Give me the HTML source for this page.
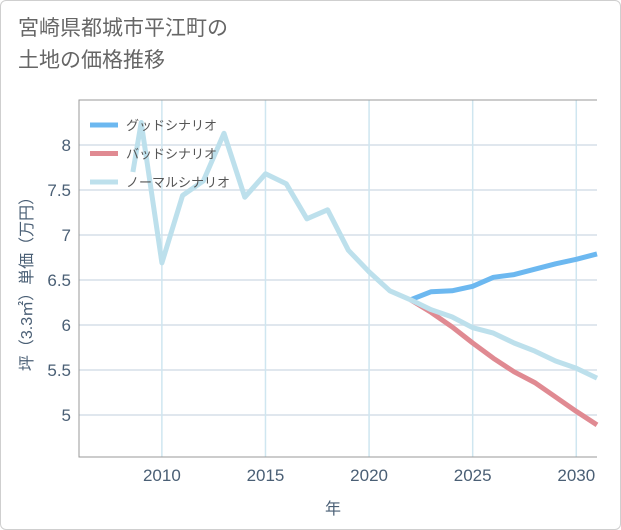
<!DOCTYPE html>
<html><head><meta charset="utf-8">
<style>
html,body{margin:0;padding:0;background:#fff;}
body{width:621px;height:530px;overflow:hidden;font-family:"Liberation Sans","Noto Sans CJK JP",sans-serif;}
#frame{position:absolute;left:0;top:0;width:619px;height:528px;border:1px solid #cfcfcf;border-radius:6px;}
#title{position:absolute;left:18px;top:13px;font-size:21px;line-height:32px;color:#666;}
</style></head><body>
<div id="frame"></div>
<div id="title">宮崎県都城市平江町の<br>土地の価格推移</div>
<svg id="chart" width="621" height="530" style="position:absolute;left:0;top:0"></svg>
<script>
const yearsNormal=[2008.6,2009,2010,2011,2012,2013,2014,2015,2016,2017,2018,2019,2020,2021,2022,2023,2024,2025,2026,2027,2028,2029,2030,2031];
const valuesNormal=[7.7,8.25,6.69,7.44,7.6,8.13,7.42,7.68,7.57,7.18,7.28,6.83,6.59,6.38,6.28,6.17,6.09,5.97,5.91,5.8,5.71,5.6,5.52,5.41];
const yearsScenario=[2022,2023,2024,2025,2026,2027,2028,2029,2030,2031];
const valuesGood=[6.28,6.37,6.38,6.43,6.53,6.56,6.62,6.68,6.73,6.79];
const valuesBad=[6.28,6.14,5.98,5.8,5.63,5.48,5.36,5.2,5.04,4.89];
const xTicks=[2010,2015,2020,2025,2030];
const yTicks=[5,5.5,6,6.5,7,7.5,8];
const legendLabels=["グッドシナリオ","バッドシナリオ","ノーマルシナリオ"];
const legendColors=["#6cb8f0","#e08a92","#bde0ec"];

const L=79,R=597,T=100,B=457;
const x=v=>L+(v-2006)*(R-L)/25;
const y=v=>415-(v-5)*90;
const svg=document.getElementById('chart');
const NS='http://www.w3.org/2000/svg';
function mk(tag,attrs,parent){const e=document.createElementNS(NS,tag);for(const k in attrs)e.setAttribute(k,attrs[k]);(parent||svg).appendChild(e);return e;}

yTicks.forEach(t=>{
  const g=mk('line',{x1:L,x2:R,y1:y(t),y2:y(t),stroke:'#d5dfe8','stroke-width':1.5});
  
  
  const tx=mk('text',{x:L-8,y:y(t)+6,'text-anchor':'end','font-size':17,fill:'#4a5f75'});
  tx.textContent=String(t);
  
  
});
xTicks.forEach(t=>{
  const g=mk('line',{x1:x(t),x2:x(t),y1:T,y2:B,stroke:'#cfe6f0','stroke-width':1.5});
  
  
  const tx=mk('text',{x:x(t),y:B+24,'text-anchor':'middle','font-size':17,fill:'#4a5f75'});
  tx.textContent=String(t);
  
  
});
const ax=mk('path',{d:`M${R} ${T} L${L} ${T} L${L} ${B} L${R} ${B}`,fill:'none',stroke:'#999','stroke-width':1});



function line(xs,vs,color,name){
  const d=xs.map((v,i)=>(i?'L':'M')+x(v).toFixed(1)+' '+y(vs[i]).toFixed(1)).join(' ');
  const p=mk('path',{d,fill:'none',stroke:color,'stroke-width':5,'stroke-linejoin':'round'});
  
  
}
line(yearsScenario,valuesGood,legendColors[0],'good-scenario-line');
line(yearsScenario,valuesBad,legendColors[1],'bad-scenario-line');
line(yearsNormal,valuesNormal,legendColors[2],'normal-scenario-line');

legendLabels.forEach((lab,i)=>{
  const yy=125+i*28.5;
  const s=mk('line',{x1:90,x2:118,y1:yy,y2:yy,stroke:legendColors[i],'stroke-width':5});
  
  
  const t=mk('text',{x:126,y:yy+5,'font-size':13,fill:'#555'});
  t.textContent=lab;
  
  
});

const xt=mk('text',{x:333,y:514,'text-anchor':'middle','font-size':16,fill:'#4a5f75'});
xt.textContent='年';


const yt=mk('text',{x:0,y:0,'text-anchor':'middle','font-size':16,fill:'#4a5f75',transform:'translate(32 280) rotate(-90)'});
yt.textContent='坪（3.3㎡）単価（万円）';


</script>
</body></html>
